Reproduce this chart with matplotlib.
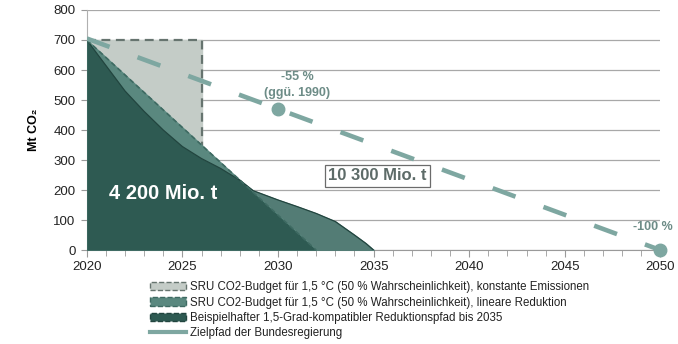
import numpy as np
import matplotlib
matplotlib.use("Agg")
import matplotlib.pyplot as plt
from matplotlib.patches import Patch
from matplotlib.lines import Line2D
from matplotlib.ticker import MultipleLocator

plt.rcParams['font.family'] = ['Liberation Sans', 'DejaVu Sans']

# SRU budget, constant emissions (4 200 Mt used up by 2026)
const_years = [2020, 2026]
const_vals = [700, 700]

# SRU budget, linear reduction (zero in 2032)
lin_years = [2020, 2032]
lin_vals = [700, 0]

# example 1.5-degree path until 2035
path_years = [2020, 2021, 2022, 2023, 2024, 2025, 2026, 2027, 2028, 2028.7,
              2030, 2031, 2032, 2033, 2034, 2034.6, 2035]
path_vals = [700, 615, 530, 462, 400, 345, 305, 272, 233, 198,
             167, 145, 122, 95, 50, 22, 0]

# target path of the federal government
target_years = [2020, 2030, 2050]
target_vals = [705, 470, 0]

legend_labels = [
    "SRU CO2-Budget für 1,5 °C (50 % Wahrscheinlichkeit), konstante Emissionen",
    "SRU CO2-Budget für 1,5 °C (50 % Wahrscheinlichkeit), lineare Reduktion",
    "Beispielhafter 1,5-Grad-kompatibler Reduktionspfad bis 2035",
    "Zielpfad der Bundesregierung",
]

c_light = "#c4ccc7"
c_mid = "#5a887f"
c_mid2 = "#537c75"
c_dark = "#2e5a52"
c_target = "#7ea7a1"
c_label = "#6d8c87"

fig = plt.figure(figsize=(6.78, 3.44), dpi=100)
ax = fig.add_axes([0.128, 0.273, 0.846, 0.698])

ax.fill_between(const_years, const_vals, color=c_light, zorder=2)
ax.plot([const_years[0], const_years[1], const_years[1]],
        [const_vals[0], const_vals[1], 0], color="#66746f", lw=1.6,
        ls=(0, (4, 2.5)), zorder=2.1)

# path and linear budget overlap: overlap dark, rest medium
ax.fill_between(path_years, path_vals, color=c_mid2, zorder=3)
ax.fill_between(lin_years, lin_vals, color=c_mid, zorder=3)
xs = np.union1d(path_years, lin_years)
both = np.minimum(np.interp(xs, path_years, path_vals),
                  np.interp(xs, lin_years, lin_vals, right=0))
ax.fill_between(xs, both, color=c_dark, lw=0, zorder=4)
ax.plot(lin_years, lin_vals, color="#3e6a62", lw=1.2, ls=(0, (3, 2)), zorder=4.2)
ax.plot(path_years, path_vals, color="#22453f", lw=0.9, zorder=4.1)

ax.plot(target_years, target_vals, color=c_target, lw=3.3,
        dashes=(5.3, 6.5), zorder=5)
ax.plot(target_years[1:], target_vals[1:], ls="none", marker="o",
        ms=9, color=c_target, zorder=6, clip_on=False)

ax.text(2024.0, 187, "4 200 Mio. t", color="white", fontsize=14.5,
        fontweight="bold", ha="center", va="center", zorder=7)
ax.text(2035.2, 247, "10 300 Mio. t", color="#5d6b68", fontsize=12,
        fontweight="bold", ha="center", va="center", zorder=7,
        bbox=dict(boxstyle="square,pad=0.2", fc="white", ec="#6b6b6b", lw=0.9))
ax.text(2031.0, 578, "-55 %", color=c_label, fontsize=9,
        fontweight="bold", ha="center", va="center", zorder=7)
ax.text(2031.0, 522, "(ggü. 1990)", color=c_label, fontsize=9,
        fontweight="bold", ha="center", va="center", zorder=7)
ax.text(2049.6, 78, "-100 %", color=c_label, fontsize=9,
        fontweight="bold", ha="center", va="center", zorder=7)

ax.set_xlim(2020, 2050)
ax.set_ylim(0, 800)
ax.xaxis.set_major_locator(MultipleLocator(5))
ax.xaxis.set_minor_locator(MultipleLocator(1))
ax.yaxis.set_major_locator(MultipleLocator(100))
ax.grid(axis="y", color="#a8a8a8", lw=0.9, zorder=0)
ax.set_axisbelow(True)
for s in ["top", "right"]:
    ax.spines[s].set_visible(False)
ax.spines["left"].set_color("#b0b0b0")
ax.spines["bottom"].set_color("#9a9a9a")
ax.tick_params(axis="both", labelsize=9.5, colors="#9a9a9a", labelcolor="#222222")
ax.tick_params(axis="x", which="major", length=5, pad=3)
ax.tick_params(axis="x", which="minor", length=4, color="#9a9a9a")
ax.tick_params(axis="y", length=4, pad=4)
ax.set_ylabel("Mt CO₂", fontsize=9, fontweight="bold", labelpad=10)

handles = [
    Patch(facecolor=c_light, edgecolor="#66746f", ls="--", lw=1),
    Patch(facecolor=c_mid, edgecolor="#3e6a62", ls="--", lw=1),
    Patch(facecolor=c_dark, edgecolor="#22453f", ls="--", lw=1),
    Line2D([], [], color=c_target, lw=3),
]
fig.legend(handles, legend_labels, loc="upper left",
           bbox_to_anchor=(0.221, 0.183), frameon=False, fontsize=8.3,
           handlelength=3.1, handletextpad=0.35, labelspacing=0.3,
           borderpad=0, borderaxespad=0, labelcolor="#222222")

fig.savefig("out.png", dpi=100)
